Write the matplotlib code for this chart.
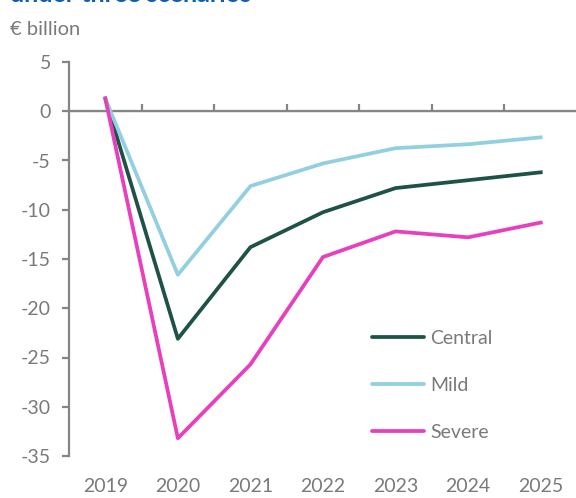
import matplotlib.pyplot as plt
from matplotlib.lines import Line2D

# === DATA ===
years = ["2019", "2020", "2021", "2022", "2023", "2024", "2025"]
central = [1.3, -23.1, -13.8, -10.25, -7.8, -7.0, -6.2]
mild = [1.3, -16.6, -7.6, -5.3, -3.75, -3.35, -2.65]
severe = [1.3, -33.2, -25.7, -14.8, -12.2, -12.8, -11.3]
y_ticks = [5, 0, -5, -10, -15, -20, -25, -30, -35]

# === STYLE ===
plt.rcParams['font.family'] = ['Lato', 'DejaVu Sans']
grey = "#7a7a7a"
axis_grey = "#858585"
c_central = "#1f5247"
c_mild = "#92cfe0"
c_severe = "#e83fbd"
lw = 2.7

fig = plt.figure(figsize=(5.76, 4.98), dpi=100)
ax = fig.add_axes([69 / 576, 42 / 498, 508 / 576, 394 / 498])

x = list(range(len(years)))
ax.plot(x, central, color=c_central, lw=lw, label="Central")
ax.plot(x, mild, color=c_mild, lw=lw, label="Mild")
ax.plot(x, severe, color=c_severe, lw=lw, label="Severe")

ax.set_xlim(-0.5, len(years) - 0.5)
ax.set_ylim(-35, 5)
ax.set_yticks(y_ticks)
ax.set_yticklabels([str(v) for v in y_ticks])
ax.set_xticks(x)
ax.set_xticklabels(years)

for s in ["top", "right", "bottom"]:
    ax.spines[s].set_visible(False)
ax.spines["left"].set_color(axis_grey)
ax.spines["left"].set_linewidth(1.6)
ax.tick_params(axis="y", colors=axis_grey, labelcolor=grey, length=5, width=1.6,
               labelsize=14, pad=8)
ax.tick_params(axis="x", length=0, labelcolor=grey, labelsize=14, pad=16)

# zero line with category separators
ax.axhline(0, color=axis_grey, lw=1.6, zorder=1)
sec = ax.secondary_xaxis(35 / 40)
sec.spines["bottom"].set_visible(False)
sec.set_xticks([i + 0.5 for i in range(len(years) - 1)])
sec.set_xticklabels([])
sec.tick_params(axis="x", direction="out", length=5, width=1.6, colors=axis_grey)

# legend
handles = [Line2D([], [], color=c, lw=lw, solid_capstyle="round")
           for c in (c_central, c_mild, c_severe)]
leg = ax.legend(handles, ["Central", "Mild", "Severe"], loc="upper left",
                bbox_to_anchor=(295 / 508, 134 / 394), frameon=False,
                fontsize=14, handlelength=2.7, handletextpad=0.3,
                labelspacing=1.55, borderaxespad=0)
for t in leg.get_texts():
    t.set_color(grey)

# title (cut off at top) and unit label
fig.text(10 / 576, 1 - 1.5 / 498, "under three scenarios", color="#0a5fb4",
         fontsize=18, fontweight="bold", va="baseline", ha="left")
fig.text(10 / 576, 1 - 29 / 498, "€ billion", color=grey, fontsize=14.5,
         va="center", ha="left")

fig.savefig("out.png", dpi=100)
